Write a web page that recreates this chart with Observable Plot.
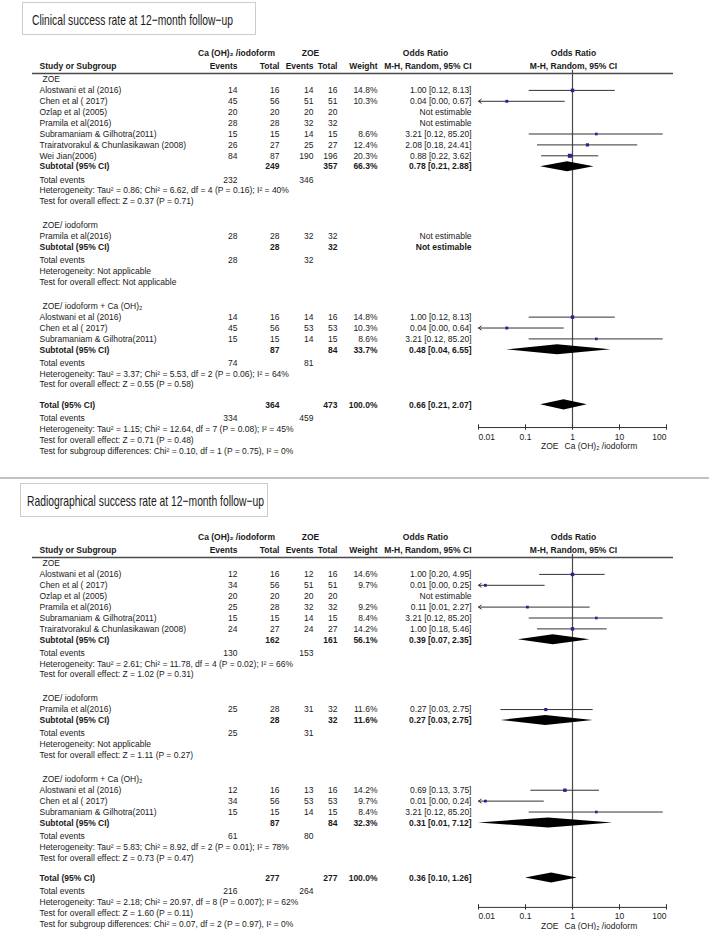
<!DOCTYPE html>
<html><head><meta charset="utf-8">
<script src="https://cdn.jsdelivr.net/npm/d3@7"></script>
<script src="https://cdn.jsdelivr.net/npm/@observablehq/plot@0.6"></script>
<style>
body{margin:0;background:#fff;font-family:"Liberation Sans",Arial,sans-serif;}
#root{position:relative;width:709px;height:930px;overflow:hidden;background:#fff;}
.panel{position:absolute;left:0;width:709px;}
.panel svg{position:absolute;left:0;top:0;background:transparent !important;}
.titlebox{position:absolute;border:1px solid #cdcdcd;background:#fff;white-space:nowrap;box-sizing:border-box;}
.titlebox span{position:absolute;display:inline-block;transform-origin:0 50%;font-size:15px;color:#1a1a1a;font-family:"Liberation Sans",Arial,sans-serif;}
.sep{position:absolute;left:0;width:709px;height:2px;background:#c2c2c2;}
</style></head><body><div id="root"></div><script>
// ================= DATA: Clinical success =================
const clinTitle = "Clinical success rate at 12−month follow−up";
const clinGroups = ["ZOE", "ZOE/ iodoform", "ZOE/ iodoform + Ca (OH)₂"];
const clinStudy = ["Alostwani et al (2016)","Chen et al ( 2017)","Ozlap et al (2005)","Pramila et al(2016)","Subramaniam & Gilhotra(2011)","Trairatvorakul & Chunlasikawan (2008)","Wei Jian(2006)","Pramila et al(2016)","Alostwani et al (2016)","Chen et al ( 2017)","Subramaniam & Gilhotra(2011)"];
const clinGroupOf = [0,0,0,0,0,0,0,1,2,2,2];
const clinE1 = [14,45,20,28,15,26,84,28,14,45,15];
const clinN1 = [16,56,20,28,15,27,87,28,16,56,15];
const clinE2 = [14,51,20,32,14,25,190,32,14,53,14];
const clinN2 = [16,51,20,32,15,27,196,32,16,53,15];
const clinWeight = [14.8,10.3,null,null,8.6,12.4,20.3,null,14.8,10.3,8.6];
const clinOR = [1.00,0.04,null,null,3.21,2.08,0.88,null,1.00,0.04,3.21];
const clinLo = [0.12,0.00,null,null,0.12,0.18,0.22,null,0.12,0.00,0.12];
const clinHi = [8.13,0.67,null,null,85.20,24.41,3.62,null,8.13,0.64,85.20];
const clinSubE1 = [232,28,74];
const clinSubE2 = [346,32,81];
const clinSubN1 = [249,28,87];
const clinSubN2 = [357,32,84];
const clinSubWeight = [66.3,null,33.7];
const clinSubOR = [0.78,null,0.48];
const clinSubLo = [0.21,null,0.04];
const clinSubHi = [2.88,null,6.55];
const clinSubHet = ["Heterogeneity: Tau² = 0.86; Chi² = 6.62, df = 4 (P = 0.16); I² = 40%","Heterogeneity: Not applicable","Heterogeneity: Tau² = 3.37; Chi² = 5.53, df = 2 (P = 0.06); I² = 64%"];
const clinSubTest = ["Test for overall effect: Z = 0.37 (P = 0.71)","Test for overall effect: Not applicable","Test for overall effect: Z = 0.55 (P = 0.58)"];
const clinTotalN = [364,473];
const clinTotalEvents = [334,459];
const clinTotalWeight = 100.0;
const clinTotalCI = [0.66,0.21,2.07];
const clinTotalNotes = ["Heterogeneity: Tau² = 1.15; Chi² = 12.64, df = 7 (P = 0.08); I² = 45%","Test for overall effect: Z = 0.71 (P = 0.48)","Test for subgroup differences: Chi² = 0.10, df = 1 (P = 0.75), I² = 0%"];

// ================= DATA: Radiographical success =================
const radTitle = "Radiographical success rate at 12−month follow−up";
const radGroups = ["ZOE", "ZOE/ iodoform", "ZOE/ iodoform + Ca (OH)₂"];
const radStudy = ["Alostwani et al (2016)","Chen et al ( 2017)","Ozlap et al (2005)","Pramila et al(2016)","Subramaniam & Gilhotra(2011)","Trairatvorakul & Chunlasikawan (2008)","Pramila et al(2016)","Alostwani et al (2016)","Chen et al ( 2017)","Subramaniam & Gilhotra(2011)"];
const radGroupOf = [0,0,0,0,0,0,1,2,2,2];
const radE1 = [12,34,20,25,15,24,25,12,34,15];
const radN1 = [16,56,20,28,15,27,28,16,56,15];
const radE2 = [12,51,20,32,14,24,31,13,53,14];
const radN2 = [16,51,20,32,15,27,32,16,53,15];
const radWeight = [14.6,9.7,null,9.2,8.4,14.2,11.6,14.2,9.7,8.4];
const radOR = [1.00,0.014,null,0.11,3.21,1.00,0.27,0.69,0.014,3.21];
const radLo = [0.20,0.00,null,0.006,0.12,0.18,0.03,0.13,0.00,0.12];
const radHi = [4.95,0.25,null,2.27,85.20,5.46,2.75,3.75,0.24,85.20];
const radSubE1 = [130,25,61];
const radSubE2 = [153,31,80];
const radSubN1 = [162,28,87];
const radSubN2 = [161,32,84];
const radSubWeight = [56.1,11.6,32.3];
const radSubOR = [0.39,0.27,0.31];
const radSubLo = [0.07,0.03,0.01];
const radSubHi = [2.35,2.75,7.12];
const radSubHet = ["Heterogeneity: Tau² = 2.61; Chi² = 11.78, df = 4 (P = 0.02); I² = 66%","Heterogeneity: Not applicable","Heterogeneity: Tau² = 5.83; Chi² = 8.92, df = 2 (P = 0.01); I² = 78%"];
const radSubTest = ["Test for overall effect: Z = 1.02 (P = 0.31)","Test for overall effect: Z = 1.11 (P = 0.27)","Test for overall effect: Z = 0.73 (P = 0.47)"];
const radTotalN = [277,277];
const radTotalEvents = [216,264];
const radTotalWeight = 100.0;
const radTotalCI = [0.36,0.10,1.26];
const radTotalNotes = ["Heterogeneity: Tau² = 2.18; Chi² = 20.97, df = 8 (P = 0.007); I² = 62%","Test for overall effect: Z = 1.60 (P = 0.11)","Test for subgroup differences: Chi² = 0.07, df = 2 (P = 0.97), I² = 0%"];

// shared labels
const expLabel = "Ca (OH)₂ /iodoform";
const ctlLabel = "ZOE";
const axisTicks = [0.01, 0.1, 1, 10, 100];
const axisTickLabels = ["0.01", "0.1", "1", "10", "100"];

// ================= LAYOUT =================
const W = 709;
const UNIT = 10.9, BASE = 79;
const COL = {label:39, group:42, e1:237, n1:279, e2:313, n2:337, w:377, ci:471, hExp:236, hCtl:310, hOR:425, hPlot:573, ruleL:32, ruleR:673};
const FOREST_RANGE = [478, 666];
const TXT = "#1a1a1a";

function layoutPanel(p, axisGap) {
  const texts = [], studies = [], diamonds = [];
  const T = (u, col, text, anchor = "end", bold = false) => texts.push({u, x: COL[col], text: String(text), anchor, bold});
  const ci = (o, l, h) => `${o.toFixed(2)} [${l.toFixed(2)}, ${h.toFixed(2)}]`;
  const pct = (w) => w.toFixed(1) + "%";
  // headers
  T(-2.4, "hExp", expLabel, "middle", true);
  T(-2.4, "hCtl", ctlLabel, "middle", true);
  T(-2.4, "hOR", "Odds Ratio", "middle", true);
  T(-2.4, "hPlot", "Odds Ratio", "middle", true);
  T(-1.2, "label", "Study or Subgroup", "start", true);
  T(-1.2, "e1", "Events", "end", true);
  T(-1.2, "n1", "Total", "end", true);
  T(-1.2, "e2", "Events", "end", true);
  T(-1.2, "n2", "Total", "end", true);
  T(-1.2, "w", "Weight", "end", true);
  T(-1.2, "ci", "M-H, Random, 95% CI", "end", true);
  T(-1.2, "hPlot", "M-H, Random, 95% CI", "middle", true);
  let u = 0;
  p.groups.forEach((g, gi) => {
    if (gi > 0) u += 2.2;
    T(u, "group", g, "start");
    p.study.forEach((s, i) => {
      if (p.groupOf[i] !== gi) return;
      u += 1;
      T(u, "label", s, "start");
      T(u, "e1", p.e1[i]); T(u, "n1", p.n1[i]); T(u, "e2", p.e2[i]); T(u, "n2", p.n2[i]);
      if (p.w[i] != null) T(u, "w", pct(p.w[i]));
      if (p.or[i] != null) {
        T(u, "ci", ci(p.or[i], p.lo[i], p.hi[i]));
        studies.push({u, or: p.or[i], lo: p.lo[i], hi: p.hi[i], w: p.w[i]});
      } else T(u, "ci", "Not estimable");
    });
    u += 1;
    T(u, "label", "Subtotal (95% CI)", "start", true);
    T(u, "n1", p.subN1[gi], "end", true); T(u, "n2", p.subN2[gi], "end", true);
    if (p.subW[gi] != null) T(u, "w", pct(p.subW[gi]), "end", true);
    if (p.subOR[gi] != null) {
      T(u, "ci", ci(p.subOR[gi], p.subLo[gi], p.subHi[gi]), "end", true);
      diamonds.push({key: "g" + gi, u, or: p.subOR[gi], lo: p.subLo[gi], hi: p.subHi[gi]});
    } else T(u, "ci", "Not estimable", "end", true);
    u += 1.2;
    T(u, "label", "Total events", "start");
    T(u, "e1", p.subE1[gi]); T(u, "e2", p.subE2[gi]);
    u += 1; T(u, "label", p.subHet[gi], "start");
    u += 1; T(u, "label", p.subTest[gi], "start");
  });
  u += 1.85;
  const totalU = u;
  T(u, "label", "Total (95% CI)", "start", true);
  T(u, "n1", p.totN[0], "end", true); T(u, "n2", p.totN[1], "end", true);
  T(u, "w", pct(p.totW), "end", true);
  T(u, "ci", ci(...p.totCI), "end", true);
  diamonds.push({key: "total", u, or: p.totCI[0], lo: p.totCI[1], hi: p.totCI[2]});
  u += 1.25;
  T(u, "label", "Total events", "start");
  T(u, "e1", p.totE[0]); T(u, "e2", p.totE[1]);
  p.totNotes.forEach(n => { u += 1; T(u, "label", n, "start"); });
  return {texts, studies, diamonds, axisU: totalU + axisGap};
}

function buildPanel(p, cfg) {
  const L = layoutPanel(p, cfg.axisGap);
  const yOpt = {type: "linear", domain: [0, 1], range: [BASE, BASE + UNIT], axis: null};
  const style = {fontFamily: "'Liberation Sans', Arial, sans-serif", fontSize: "8.5px", background: "transparent", color: TXT};
  const textMarks = [];
  for (const anchor of ["start", "middle", "end"]) for (const bold of [false, true]) {
    const d = L.texts.filter(t => t.anchor === anchor && t.bold === bold);
    if (d.length) textMarks.push(Plot.text(d, {x: "x", y: "u", text: "text", textAnchor: anchor, fontWeight: bold ? "bold" : "normal", fill: TXT}));
  }
  const table = Plot.plot({
    width: W, height: cfg.height, margin: 0,
    x: {type: "linear", domain: [0, W], range: [0, W], axis: null},
    y: yOpt, style,
    marks: [
      Plot.ruleY([-0.55], {x1: COL.ruleL, x2: COL.ruleR, stroke: "#4a4a4a", strokeWidth: 1.4}),
      ...textMarks
    ]
  });
  const clipped = L.studies.filter(s => s.lo < 0.01);
  const whole = L.studies.filter(s => s.lo >= 0.01);
  const dpts = L.diamonds.flatMap(d => [
    {key: d.key, x: d.lo, y1: d.u, y2: d.u},
    {key: d.key, x: d.or, y1: d.u - 0.46, y2: d.u + 0.46},
    {key: d.key, x: d.hi, y1: d.u, y2: d.u}
  ]);
  const ticks = axisTicks.map((t, i) => ({t, label: axisTickLabels[i], i}));
  const forest = Plot.plot({
    width: W, height: cfg.height, margin: 0,
    x: {type: "log", domain: [0.01, 100], range: FOREST_RANGE, axis: null},
    y: yOpt,
    r: {type: "sqrt", domain: [0, 20.3], range: [0, 2.3]},
    style,
    marks: [
      Plot.ruleX([1], {y1: -0.85, y2: L.axisU, stroke: "#4a4a4a", strokeWidth: 1.2}),
      Plot.ruleY(whole, {y: "u", x1: "lo", x2: "hi", stroke: "#333", strokeWidth: 1}),
      Plot.arrow(clipped, {x1: "hi", y1: "u", x2: () => 0.01, y2: "u", stroke: "#333", strokeWidth: 1, headLength: 5, headAngle: 70}),
      Plot.dot(L.studies, {x: "or", y: "u", r: "w", symbol: "square", fill: "#23239a", stroke: "none"}),
      Plot.areaY(dpts, {x: "x", y1: "y1", y2: "y2", z: "key", fill: "#000"}),
      Plot.ruleY([L.axisU], {x1: 0.01, x2: 100, stroke: "#333", strokeWidth: 1}),
      Plot.ruleX(ticks, {x: "t", y1: L.axisU - 0.25, y2: L.axisU + 0.25, stroke: "#333", strokeWidth: 1}),
      Plot.text(ticks.filter(d => d.i === 0), {x: "t", y: L.axisU + 0.85, text: "label", textAnchor: "start", fill: TXT}),
      Plot.text(ticks.filter(d => d.i > 0 && d.i < ticks.length - 1), {x: "t", y: L.axisU + 0.85, text: "label", textAnchor: "middle", fill: TXT}),
      Plot.text(ticks.filter(d => d.i === ticks.length - 1), {x: "t", y: L.axisU + 0.85, text: "label", textAnchor: "end", fill: TXT}),
      Plot.text([ctlLabel], {x: () => 1, y: L.axisU + 1.75, text: d => d, textAnchor: "end", dx: -14, fill: TXT}),
      Plot.text([expLabel], {x: () => 1, y: L.axisU + 1.75, text: d => d, textAnchor: "start", dx: -8, fill: TXT})
    ]
  });
  const div = document.createElement("div");
  div.className = "panel";
  div.style.top = cfg.top + "px";
  div.style.height = cfg.height + "px";
  div.appendChild(table);
  div.appendChild(forest);
  const box = document.createElement("div");
  box.className = "titlebox";
  Object.assign(box.style, {left: cfg.box[0] + "px", top: cfg.box[1] + "px", width: cfg.box[2] + "px", height: cfg.box[3] + "px"});
  const span = document.createElement("span");
  span.textContent = cfg.title;
  span.style.left = cfg.textLeft + "px";
  span.style.top = "50%";
  box.appendChild(span);
  div.appendChild(box);
  document.getElementById("root").appendChild(div);
  const nat = span.getBoundingClientRect().width;
  span.style.transform = `translateY(-50%) scaleX(${cfg.textWidth / nat})`;
}

buildPanel({
  groups: clinGroups, study: clinStudy, groupOf: clinGroupOf,
  e1: clinE1, n1: clinN1, e2: clinE2, n2: clinN2, w: clinWeight, or: clinOR, lo: clinLo, hi: clinHi,
  subE1: clinSubE1, subE2: clinSubE2, subN1: clinSubN1, subN2: clinSubN2, subW: clinSubWeight,
  subOR: clinSubOR, subLo: clinSubLo, subHi: clinSubHi, subHet: clinSubHet, subTest: clinSubTest,
  totN: clinTotalN, totE: clinTotalEvents, totW: clinTotalWeight, totCI: clinTotalCI, totNotes: clinTotalNotes
}, {top: 0, height: 470, title: clinTitle, box: [22, 2, 234, 33], textLeft: 9, textWidth: 201, axisGap: 2.08});

const sep = document.createElement("div");
sep.className = "sep"; sep.style.top = "477px";
document.getElementById("root").appendChild(sep);

buildPanel({
  groups: radGroups, study: radStudy, groupOf: radGroupOf,
  e1: radE1, n1: radN1, e2: radE2, n2: radN2, w: radWeight, or: radOR, lo: radLo, hi: radHi,
  subE1: radSubE1, subE2: radSubE2, subN1: radSubN1, subN2: radSubN2, subW: radSubWeight,
  subOR: radSubOR, subLo: radSubLo, subHi: radSubHi, subHet: radSubHet, subTest: radSubTest,
  totN: radTotalN, totE: radTotalEvents, totW: radTotalWeight, totCI: radTotalCI, totNotes: radTotalNotes
}, {top: 484, height: 446, title: radTitle, box: [20, -1, 248, 34], textLeft: 6, textWidth: 237, axisGap: 2.7});
</script></body></html>
